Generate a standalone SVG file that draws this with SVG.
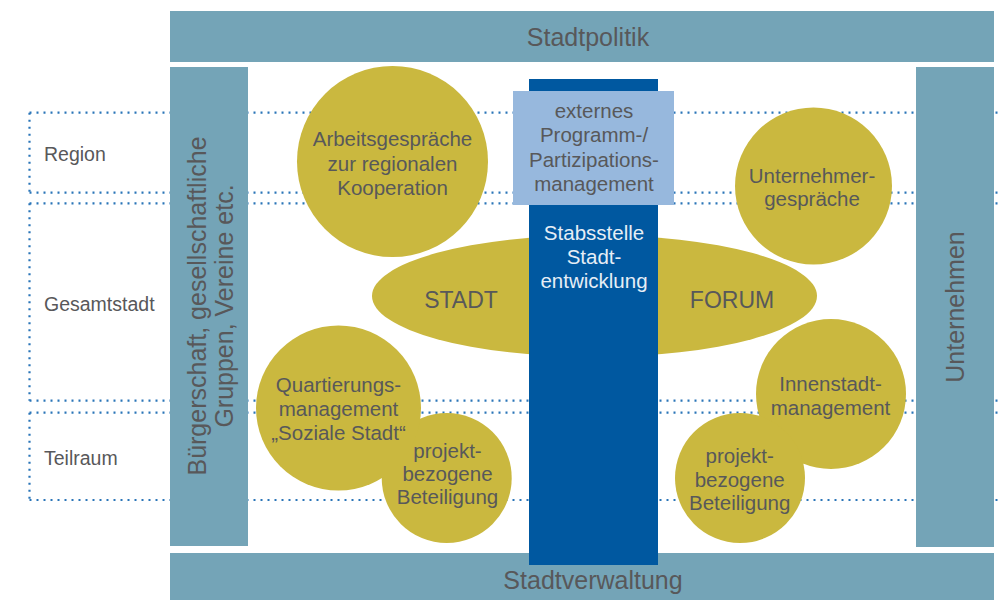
<svg xmlns="http://www.w3.org/2000/svg" width="998" height="600" viewBox="0 0 998 600">
  <style>
    .bar { fill: #74a4b7; }
    .bubble { fill: #cab83f; }
    .lbl { font-family: "Liberation Sans", Arial, sans-serif; fill: #58585a; text-anchor: middle; }
    .bub { font-size: 20.5px; }
    .big { font-size: 25px; }
    .lvl { font-family: "Liberation Sans", Arial, sans-serif; fill: #58585a; font-size: 19.5px; }
    .dots { fill: none; stroke: #2a75b8; stroke-width: 2.2; stroke-dasharray: 2 5; }
  </style>
  <rect width="998" height="600" fill="#ffffff"/>

  <!-- level bands: dotted frames running behind everything -->
  <g id="levels">
    <g class="dots">
      <line x1="29.5" y1="112.7" x2="998" y2="112.7"/>
      <line x1="29.5" y1="192.7" x2="998" y2="192.7"/>
      <line x1="29.5" y1="112.7" x2="29.5" y2="192.7"/>
      <line x1="29.5" y1="203.3" x2="998" y2="203.3"/>
      <line x1="29.5" y1="400.7" x2="998" y2="400.7"/>
      <line x1="29.5" y1="203.3" x2="29.5" y2="400.7"/>
      <line x1="29.5" y1="412.7" x2="998" y2="412.7"/>
      <line x1="29.5" y1="500" x2="998" y2="500"/>
      <line x1="29.5" y1="412.7" x2="29.5" y2="500"/>
    </g>
    <text class="lvl" x="44" y="161">Region</text>
    <text class="lvl" x="44" y="311">Gesamtstadt</text>
    <text class="lvl" x="44" y="465">Teilraum</text>
  </g>

  <!-- frame bars -->
  <g id="stadtpolitik">
    <rect class="bar" x="170" y="11" width="824" height="51"/>
    <text class="lbl big" x="588" y="46">Stadtpolitik</text>
  </g>
  <g id="buergerschaft">
    <rect class="bar" x="170" y="67" width="78" height="479"/>
    <text class="lbl big" transform="translate(206 306) rotate(-90)">Bürgerschaft, gesellschaftliche</text>
    <text class="lbl big" transform="translate(233 306) rotate(-90)">Gruppen, Vereine etc.</text>
  </g>
  <g id="unternehmen">
    <rect class="bar" x="916" y="67" width="78" height="480"/>
    <text class="lbl big" transform="translate(964 307) rotate(-90)">Unternehmen</text>
  </g>
  <g id="stadtverwaltung">
    <rect class="bar" x="170" y="553" width="824" height="47"/>
    <text class="lbl big" x="593" y="589">Stadtverwaltung</text>
  </g>

  <!-- forum ellipse -->
  <g id="stadtforum">
    <ellipse class="bubble" cx="594.5" cy="296" rx="222.5" ry="61"/>
    <text class="lbl" x="461" y="308" font-size="23">STADT</text>
    <text class="lbl" x="732" y="308" font-size="23">FORUM</text>
  </g>

  <!-- bubbles -->
  <g id="arbeitsgespraeche">
    <circle class="bubble" cx="392.5" cy="161.5" r="95.5"/>
    <text class="lbl bub" x="392.5" y="146">Arbeitsgespräche</text>
    <text class="lbl bub" x="392.5" y="170.5">zur regionalen</text>
    <text class="lbl bub" x="392.5" y="195">Kooperation</text>
  </g>
  <g id="unternehmergespraeche">
    <circle class="bubble" cx="813.5" cy="186" r="78.5"/>
    <text class="lbl bub" x="812" y="182.5">Unternehmer-</text>
    <text class="lbl bub" x="812" y="206">gespräche</text>
  </g>
  <g id="beteiligung-links">
    <circle class="bubble" cx="446.7" cy="478" r="65"/>
    <text class="lbl bub" x="447.5" y="457.5">projekt-</text>
    <text class="lbl bub" x="447.5" y="480.5">bezogene</text>
    <text class="lbl bub" x="447.5" y="504">Beteiligung</text>
  </g>
  <g id="quartiersmanagement">
    <circle class="bubble" cx="338.5" cy="408" r="82.5"/>
    <text class="lbl bub" x="338.5" y="391.5">Quartierungs-</text>
    <text class="lbl bub" x="338.5" y="415.5">management</text>
    <text class="lbl bub" x="338.5" y="440">„Soziale Stadt“</text>
  </g>
  <g id="innenstadtmanagement">
    <circle class="bubble" cx="831" cy="394" r="75"/>
    <text class="lbl bub" x="830.5" y="390.5">Innenstadt-</text>
    <text class="lbl bub" x="830.5" y="414.5">management</text>
  </g>
  <g id="beteiligung-rechts">
    <circle class="bubble" cx="740" cy="478" r="65"/>
    <text class="lbl bub" x="739.7" y="463.3">projekt-</text>
    <text class="lbl bub" x="739.7" y="486.7">bezogene</text>
    <text class="lbl bub" x="739.7" y="510">Beteiligung</text>
  </g>

  <!-- central column -->
  <g id="stabsstelle">
    <rect x="529" y="79" width="129" height="486" fill="#0058a0"/>
    <text class="lbl bub" x="594" y="240" style="fill:#e6eef6">Stabsstelle</text>
    <text class="lbl bub" x="594" y="264" style="fill:#e6eef6">Stadt-</text>
    <text class="lbl bub" x="594" y="288" style="fill:#e6eef6">entwicklung</text>
  </g>
  <g id="programmmanagement">
    <rect x="513" y="91" width="161" height="114" fill="#97b8dd"/>
    <text class="lbl bub" x="594" y="117.5">externes</text>
    <text class="lbl bub" x="594" y="141.7">Programm-/</text>
    <text class="lbl bub" x="594" y="166.5">Partizipations-</text>
    <text class="lbl bub" x="594" y="190.5">management</text>
  </g>
</svg>
